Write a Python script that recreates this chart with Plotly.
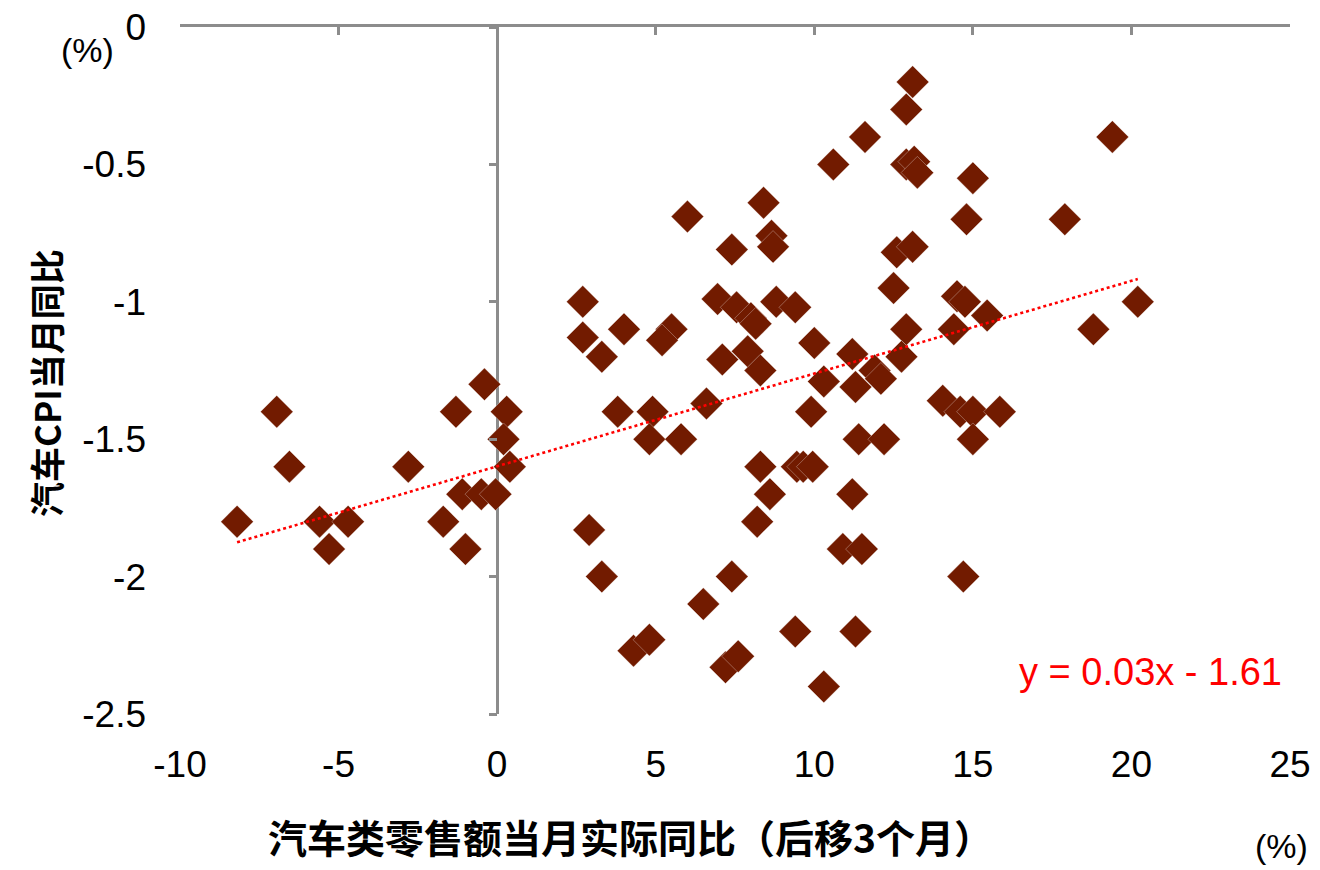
import numpy as np
import plotly.graph_objects as go

# Car retail sales real YoY (shifted 3 months), %
sales_yoy = [
    -8.2, -6.95, -6.55, -5.6, -4.7, -5.3, -2.8, -1.7, -1.3, -1.0, -1.1, -0.5, -0.05, -0.4, 0.3, 0.2, 0.4,
    2.7, 2.7, 4.0, 3.3, 5.5, 5.2, 3.8, 4.9, 4.8, 5.8, 6.6, 2.9, 3.3, 4.3, 4.8, 6.5, 7.2, 7.6, 7.4,
    8.2, 8.6, 8.3, 9.45, 9.65, 9.95, 9.4, 10.3, 9.9, 6.0, 8.4, 8.65, 8.7, 7.4, 6.95, 7.55, 8.0, 8.15,
    8.8, 9.4, 7.1, 7.9, 8.3, 10.0, 10.3,
    10.6, 11.6, 13.1, 12.9, 12.9, 13.15, 13.25, 15.0, 14.8, 19.4, 17.9, 12.6, 13.1, 12.5, 14.5, 14.75,
    15.45, 20.2, 18.8, 12.9, 14.4, 11.2, 11.3, 11.9, 12.1, 12.75, 14.05, 14.6, 15.0, 15.85, 15.0,
    11.4, 12.2, 11.2, 10.9, 11.5, 14.7, 11.3,
]
# Car CPI YoY, %
car_cpi_yoy = [
    -1.8, -1.4, -1.6, -1.8, -1.8, -1.9, -1.6, -1.8, -1.4, -1.9, -1.7, -1.7, -1.7, -1.3, -1.4, -1.5, -1.6,
    -1.0, -1.13, -1.1, -1.2, -1.1, -1.14, -1.4, -1.4, -1.5, -1.5, -1.37, -1.83, -2.0, -2.27, -2.23, -2.1, -2.33, -2.29, -2.0,
    -1.8, -1.7, -1.6, -1.6, -1.6, -1.6, -2.2, -2.4, -1.4, -0.69, -0.64, -0.76, -0.8, -0.81, -0.99, -1.02, -1.06, -1.08,
    -1.0, -1.02, -1.21, -1.18, -1.25, -1.15, -1.29,
    -0.5, -0.4, -0.2, -0.3, -0.5, -0.49, -0.53, -0.55, -0.7, -0.4, -0.7, -0.82, -0.8, -0.95, -0.98, -1.0,
    -1.05, -1.0, -1.1, -1.1, -1.1, -1.19, -1.31, -1.25, -1.28, -1.2, -1.36, -1.4, -1.4, -1.4, -1.5,
    -1.5, -1.5, -1.7, -1.9, -1.9, -2.0, -2.2,
]

x_ticks = [-10, -5, 0, 5, 10, 15, 20, 25]
x_tick_text = ["-10", "-5", "0", "5", "10", "15", "20", "25"]
y_ticks = [0, -0.5, -1, -1.5, -2, -2.5]
y_tick_text = ["0", "-0.5", "-1", "-1.5", "-2", "-2.5"]

x_title = "汽车类零售额当月实际同比（后移3个月）"
y_title = "汽车CPI当月同比"
eq_text = "y = 0.03x - 1.61"
unit_text = "(%)"

MARKER = "#721B00"
AXIS = "#8C8C8C"
NUM_FONT = "Liberation Sans"
CJK_FONT = "Noto Sans CJK SC"

xs = np.array(sales_yoy)
ys = np.array(car_cpi_yoy)
slope, intercept = np.polyfit(xs, ys, 1)
trend_x = np.array([xs.min(), xs.max()])
trend_y = slope * trend_x + intercept

fig = go.Figure()
fig.add_trace(go.Scatter(
    x=sales_yoy, y=car_cpi_yoy, mode="markers",
    marker=dict(symbol="diamond", size=25, color=MARKER,
                line=dict(color="rgba(255,255,255,0.5)", width=0.6)),
    showlegend=False,
))
fig.add_trace(go.Scatter(
    x=trend_x, y=trend_y, mode="lines", xaxis="x2", yaxis="y2",
    line=dict(color="#FF0000", width=2.6, dash="dot"),
    hoverinfo="skip", showlegend=False,
))

fig.update_layout(
    width=1312, height=862,
    margin=dict(l=172, r=30, t=19, b=156, autoexpand=False),
    paper_bgcolor="white", plot_bgcolor="white",
    xaxis=dict(
        range=[-10, 25], tickvals=x_ticks, ticktext=x_tick_text, showgrid=False,
        zeroline=True, zerolinecolor=AXIS, zerolinewidth=2.5, automargin=False,
        showline=False, ticks="", ticklabelstandoff=25, ticklabeloverflow="allow",
        tickfont=dict(family=NUM_FONT, size=37, color="#000"),
    ),
    yaxis=dict(
        range=[-2.5, 0], tickvals=y_ticks, ticktext=y_tick_text, showgrid=False,
        zeroline=False, showline=False, ticks="", ticklabelstandoff=33,
        ticklabeloverflow="allow", automargin=False,
        tickfont=dict(family=NUM_FONT, size=37, color="#000"),
    ),
    xaxis2=dict(
        overlaying="x", side="top", anchor="y2", range=[-10, 25], tickvals=x_ticks,
        showgrid=False, zeroline=False, showline=True, linecolor=AXIS, linewidth=2.5,
        ticks="inside", ticklen=8, tickwidth=2.5, tickcolor=AXIS, showticklabels=False,
        automargin=False,
    ),
    yaxis2=dict(
        overlaying="y", anchor="free", position=(0 - (-10)) / 35, side="left",
        range=[-2.5, 0], tickvals=y_ticks, showgrid=False, zeroline=False,
        showline=False, automargin=False,
        ticks="outside", ticklen=8, tickwidth=2.5, tickcolor=AXIS, showticklabels=False,
    ),
    annotations=[
        dict(text=unit_text, xref="paper", yref="paper", x=-0.0829, y=0.9665,
             xanchor="center", yanchor="middle", showarrow=False,
             font=dict(family=NUM_FONT, size=34, color="#000")),
        dict(text=unit_text, xref="paper", yref="paper", x=0.9919, y=-0.1921,
             xanchor="center", yanchor="middle", showarrow=False,
             font=dict(family=NUM_FONT, size=34, color="#000")),
        dict(text=eq_text, xref="x", yref="y", x=20.6, y=-2.347,
             xanchor="center", yanchor="middle", showarrow=False,
             font=dict(family=NUM_FONT, size=38, color="#FF0000")),
        dict(text="<b>" + x_title + "</b>", xref="paper", yref="paper", x=0.406, y=-0.1776,
             xanchor="center", yanchor="middle", showarrow=False,
             font=dict(family=CJK_FONT, size=39, color="#000")),
        dict(text="<b>" + y_title + "</b>", xref="paper", yref="paper", x=-0.1216, y=0.4818,
             xanchor="center", yanchor="middle", showarrow=False, textangle=-90,
             font=dict(family=CJK_FONT, size=35, color="#000")),
    ],
)

fig.write_html("out.html")
